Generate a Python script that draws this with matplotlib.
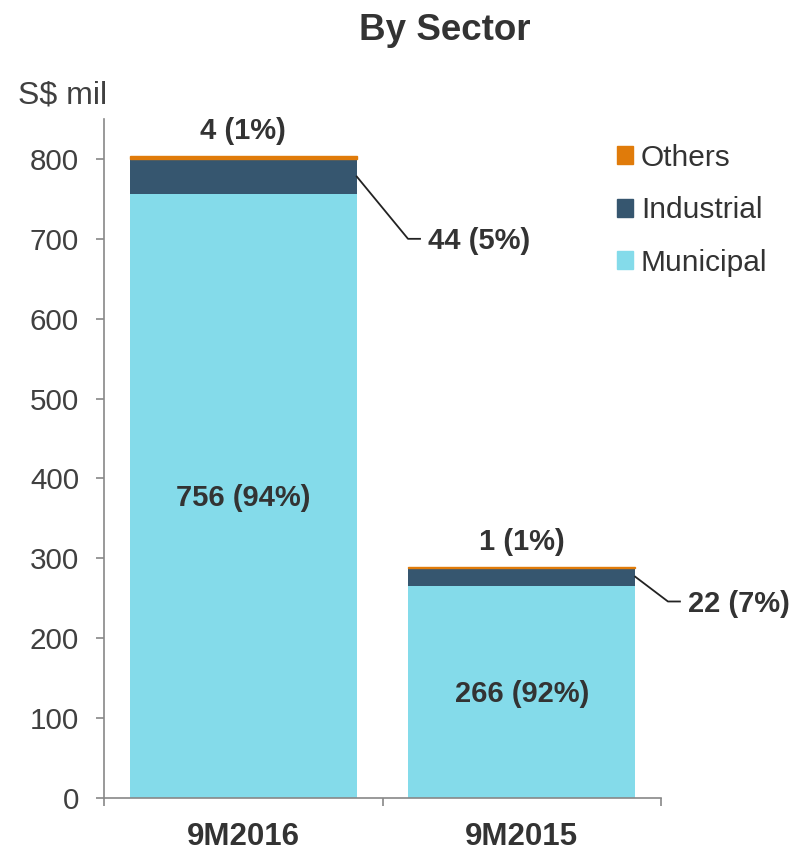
import matplotlib
matplotlib.use("Agg")
import matplotlib.pyplot as plt
from matplotlib.patches import Patch

plt.rcParams['font.family'] = ['Liberation Sans', 'DejaVu Sans']

categories = ["9M2016", "9M2015"]
municipal = [756, 266]
industrial = [44, 22]
others = [4, 1]
municipal_pct = [94, 92]
industrial_pct = [5, 7]
others_pct = [1, 1]

c_mun = "#84DBEA"
c_ind = "#36566F"
c_oth = "#E07B0A"
txt = "#333333"

fig = plt.figure(figsize=(7.92, 8.51), dpi=100)
ax = fig.add_axes([104/792, 1-798/851, (661-104)/792, (798-119)/851])

x = list(range(len(categories)))
w = 0.815
ax.bar(x, municipal, w, color=c_mun, label="Municipal")
ax.bar(x, industrial, w, bottom=municipal, color=c_ind, label="Industrial")
bot2 = [m + i for m, i in zip(municipal, industrial)]
ax.bar(x, others, w, bottom=bot2, color=c_oth, edgecolor=c_oth, linewidth=1.0,
       label="Others")

ax.set_xlim(-0.5, 1.5)
ax.set_ylim(0, 850)
ax.set_yticks(range(0, 801, 100))
ax.tick_params(axis='y', labelsize=21.3, labelcolor="#404040", color="#888888",
               length=6, width=1.2, pad=12)
ax.set_xticks([-0.5, 0.5, 1.5])
ax.set_xticklabels([])
ax.tick_params(axis='x', which='major', color="#888888", length=6, width=1.2, direction='out')
ax.set_xticks(x, minor=True)
ax.set_xticklabels(categories, minor=True, fontsize=22.5, fontweight='bold', color=txt)
ax.tick_params(axis='x', which='minor', length=0, pad=17)
for s in ['top', 'right']:
    ax.spines[s].set_visible(False)
for s in ['left', 'bottom']:
    ax.spines[s].set_color("#888888")
    ax.spines[s].set_linewidth(1.2)

lblsize = 21
for i in x:
    ax.text(i, municipal[i] / 2 - 3, f"{municipal[i]} ({municipal_pct[i]}%)", ha='center',
            va='center', fontsize=lblsize, fontweight='bold', color=txt)
    top = municipal[i] + industrial[i] + others[i]
    ax.annotate(f"{others[i]} ({others_pct[i]}%)", (i, top), xytext=(0, 8),
                textcoords='offset points', ha='center', va='bottom',
                fontsize=lblsize, fontweight='bold', color=txt)

lead = [((0.5916, 700), (0.6347, 700), (0.663, 697)),
        ((1.525, 246), (1.568, 246), (1.597, 243))]
for i in x:
    ys = municipal[i] + industrial[i] / 2
    (bx, by), (ex, ey), (tx, ty) = lead[i]
    ax.plot([i + w/2, bx, ex], [ys, by, ey], color="#222222", lw=1.3, clip_on=False)
    ax.text(tx, ty, f"{industrial[i]} ({industrial_pct[i]}%)", ha='left', va='center',
            fontsize=lblsize, fontweight='bold', color=txt, clip_on=False)

fig.text(18/792, 1-96/851, "S$ mil", fontsize=23, color="#404040", ha='left', va='center')
fig.text(445/792, 1-31/851, "By Sector", fontsize=26.5, fontweight='bold', color=txt,
         ha='center', va='center')

handles = [Patch(color=c_oth), Patch(color=c_ind), Patch(color=c_mun)]
fig.legend(handles, ["Others", "Industrial", "Municipal"], loc='upper left',
           bbox_to_anchor=(617/792, 1-144/851), frameon=False, fontsize=21.5,
           handlelength=0.55, handleheight=0.55, handletextpad=0.25,
           labelspacing=0.82, borderpad=0, borderaxespad=0, labelcolor="#333333")

fig.savefig("out.png", dpi=100)
